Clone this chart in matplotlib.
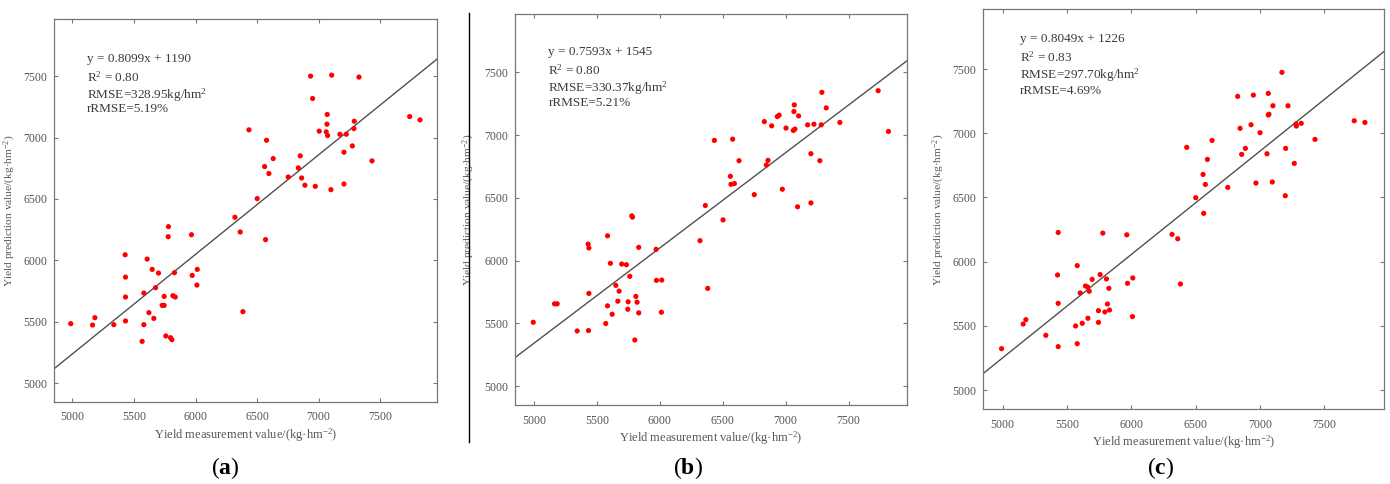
import matplotlib
matplotlib.use("Agg")
import matplotlib.pyplot as plt
from matplotlib.lines import Line2D

plt.rcParams['font.family'] = ['Liberation Serif', 'DejaVu Serif']
plt.rcParams['mathtext.fontset'] = 'custom'
plt.rcParams['mathtext.rm'] = 'Liberation Serif'
plt.rcParams['mathtext.it'] = 'Liberation Serif:italic'
plt.rcParams['mathtext.bf'] = 'Liberation Serif:bold'

# ---- data ----
meas_a = [6935, 7106, 7328, 6951, 7070, 7068, 7005, 7062, 7073, 7173, 7225, 7287, 7290, 7274,
          7206, 7434, 7740, 7824, 6434, 6577, 6631, 6561, 6596, 6851, 6835, 6753, 6862, 6889,
          6973, 7100, 7206, 6501, 6320, 6363, 6569, 5780, 5778, 5967, 5428, 5607, 5648, 5699,
          5829, 5431, 5973, 6014, 6011, 5580, 5675, 5431, 5745, 5816, 5835, 5621, 5729, 5745,
          5661, 5431, 4986, 5163, 5182, 5336, 5580, 5566, 5759, 5797, 5808, 6385]
pred_a = [7500, 7508, 7492, 7318, 7188, 7109, 7052, 7046, 7016, 7027, 7027, 7073, 7133, 6932,
          6881, 6810, 7171, 7144, 7063, 6978, 6829, 6764, 6707, 6851, 6753, 6679, 6671, 6612,
          6603, 6576, 6622, 6503, 6351, 6231, 6169, 6275, 6193, 6209, 6046, 6011, 5927, 5897,
          5900, 5864, 5878, 5927, 5799, 5734, 5778, 5702, 5707, 5713, 5702, 5575, 5634, 5634,
          5528, 5507, 5485, 5474, 5534, 5477, 5477, 5341, 5385, 5371, 5355, 5583]

meas_b = [7735, 7817, 7288, 7323, 7069, 7066, 7103, 6831, 6934, 6948, 6889, 7003, 7061, 7074,
          7175, 7225, 7283, 7431, 6434, 6579, 6630, 6561, 6566, 6593, 6847, 6860, 6751, 6974,
          7201, 7272, 7095, 7201, 6362, 6503, 6320, 5778, 5783, 5585, 5431, 5437, 5833, 5971,
          5608, 5698, 5735, 5762, 5651, 5677, 5437, 5974, 6016, 5810, 5667, 5749, 5820, 5585,
          5622, 5746, 5833, 6013, 6381, 5164, 5185, 4995, 5571, 5344, 5434, 5802]
pred_b = [7354, 7029, 7341, 7217, 7241, 7188, 7153, 7108, 7148, 7159, 7074, 7056, 7037, 7048,
          7082, 7087, 7082, 7101, 6958, 6968, 6796, 6672, 6608, 6614, 6762, 6799, 6526, 6569,
          6852, 6796, 6429, 6460, 6439, 6325, 6159, 6357, 6347, 6198, 6132, 6101, 6106, 6090,
          5979, 5973, 5968, 5875, 5803, 5757, 5739, 5843, 5845, 5715, 5677, 5672, 5669, 5640,
          5573, 5613, 5584, 5589, 5779, 5656, 5656, 5509, 5499, 5440, 5443, 5368]

meas_c = [7171, 7065, 6949, 6827, 7101, 7218, 7065, 7070, 6931, 6846, 7001, 7280, 7283, 7321,
          7733, 7816, 7428, 6628, 6431, 6887, 6858, 7055, 7200, 6592, 7267, 6558, 6576, 6750,
          6969, 7096, 7197, 6501, 6563, 5432, 5779, 5965, 6317, 6361, 5580, 5427, 5758, 5696,
          5807, 5644, 5660, 5603, 5673, 5826, 5971, 6012, 6382, 5432, 5815, 5745, 5831, 5795,
          5663, 6009, 5619, 5745, 5160, 5181, 5567, 5336, 5580, 5432, 4992]
pred_c = [7474, 7310, 7297, 7287, 7214, 7214, 7142, 7148, 7066, 7038, 7004, 7071, 7056, 7077,
          7097, 7084, 6952, 6944, 6890, 6882, 6835, 6840, 6882, 6796, 6765, 6679, 6601, 6578,
          6612, 6620, 6513, 6498, 6376, 6227, 6222, 6209, 6212, 6178, 5969, 5896, 5899, 5862,
          5865, 5810, 5803, 5756, 5769, 5792, 5831, 5873, 5826, 5675, 5670, 5618, 5623, 5608,
          5559, 5572, 5520, 5527, 5514, 5548, 5499, 5426, 5361, 5338, 5322]

slopes = [0.8099, 0.7593, 0.8049]
intercepts = [1190, 1545, 1226]
stats = [["y = 0.8099x + 1190", "R$^2$ = 0.80", "RMSE=328.95kg/hm$^2$", "rRMSE=5.19%"],
         ["y = 0.7593x + 1545", "R$^2$ = 0.80", "RMSE=330.37kg/hm$^2$", "rRMSE=5.21%"],
         ["y = 0.8049x + 1226", "R$^2$ = 0.83", "RMSE=297.70kg/hm$^2$", "rRMSE=4.69%"]]
panel_tags = ["a", "b", "c"]
ticks = [5000, 5500, 6000, 6500, 7000, 7500]

W, H = 1390, 484
fig = plt.figure(figsize=(W / 100, H / 100), dpi=100)

# axes boxes in pixels: left, top, right, bottom
boxes = [(54, 19, 437, 401.7), (515, 14, 906.7, 405), (983.3, 9.3, 1383.7, 409.3)]
text_pos = [(0.085, [0.895, 0.848, 0.802, 0.764]),
            (0.085, [0.904, 0.857, 0.810, 0.773]),
            (0.092, [0.926, 0.880, 0.836, 0.797])]
ylabel_x = [18, 476.7, 946.7]
tag_x = [225, 688, 1161]

data = [(meas_a, pred_a), (meas_b, pred_b), (meas_c, pred_c)]
gray = '#555555'
for i in range(3):
    l, t, r, b = boxes[i]
    ax = fig.add_axes([l / W, 1 - b / H, (r - l) / W, (b - t) / H])
    x, y = data[i]
    lo, hi = 4850, 7962
    ax.plot([lo, hi], [slopes[i] * lo + intercepts[i], slopes[i] * hi + intercepts[i]],
            color='#505050', lw=1.0, zorder=2)
    ax.scatter(x, y, s=14, color='red', edgecolors='none', zorder=3)
    ax.set_xlim(lo, hi)
    ax.set_ylim(4850, 7965)
    ax.set_xticks(ticks)
    ax.set_yticks(ticks)
    ax.tick_params(direction='in', top=True, right=True, length=3, width=0.8,
                   colors='#777777', labelcolor=gray, labelsize=8.5)
    ax.tick_params(axis='x', pad=7)
    ax.tick_params(axis='y', pad=5)
    for sp in ax.spines.values():
        sp.set_color('#777777')
        sp.set_linewidth(0.9)
    ax.set_xlabel('Yield measurement value/(kg·hm$^{-2}$)', fontsize=9, color=gray, labelpad=2)
    ax.set_ylabel('Yield prediction value/(kg·hm$^{-2}$)', fontsize=8.2, color=gray)
    ax.yaxis.set_label_coords((ylabel_x[i] - l) / (r - l), 0.5)
    tx, tys = text_pos[i]
    for s, ty in zip(stats[i], tys):
        ax.text(tx, ty, s, transform=ax.transAxes, fontsize=9.5, color='#3a3a3a',
                va='center', ha='left')
    fig.text(tag_x[i] / W, 1 - 468 / H, r'($\mathbf{%s}$)' % panel_tags[i],
             fontsize=17, ha='center', va='center', color='black')

fig.add_artist(Line2D([469.5 / W, 469.5 / W], [1 - 13 / H, 1 - 442 / H], color='black', lw=1))

fig.savefig('out.png', dpi=100)
